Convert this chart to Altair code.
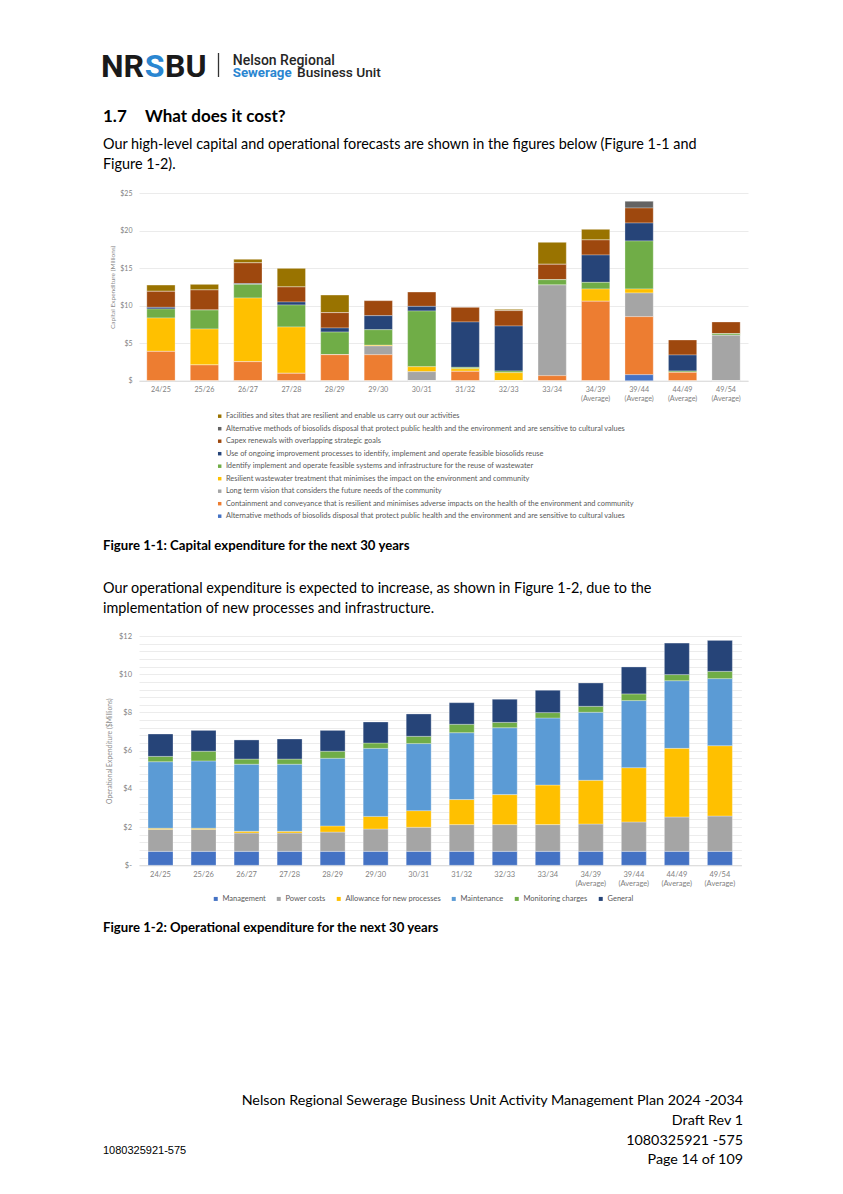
import altair as alt
import pandas as pd

# ---------------- data ----------------
categories = ["24/25", "25/26", "26/27", "27/28", "28/29", "29/30", "30/31", "31/32",
              "32/33", "33/34", "34/39 (Average)", "39/44 (Average)", "44/49 (Average)",
              "49/54 (Average)"]

# capital expenditure ($M)
cap_alt_blue = [0, 0, 0, 0, 0, 0, 0, 0, 0, 0, 0, 0.8, 0, 0]
cap_containment = [3.9, 2.09, 2.53, 0.98, 3.46, 3.46, 0, 1.24, 0, 0.67, 10.57, 7.73, 1.11, 0]
cap_long_term = [0, 0, 0, 0, 0, 1.16, 1.2, 0, 0, 12.07, 0, 3.15, 0, 6.04]
cap_resilient = [4.45, 4.79, 8.48, 6.17, 0, 0.1, 0.66, 0.36, 1.07, 0, 1.64, 0.53, 0, 0]
cap_identify = [1.2, 2.53, 1.82, 2.93, 3.02, 2.07, 7.42, 0.18, 0.22, 0.71, 0.89, 6.4, 0.18, 0.22]
cap_ongoing = [0.22, 0, 0.1, 0.4, 0.54, 1.87, 0.62, 6.04, 5.99, 0, 3.64, 2.39, 2.13, 0]
cap_renewals = [2.13, 2.67, 2.76, 2.0, 2.04, 2.0, 1.91, 1.95, 2.05, 2.05, 2.0, 2.0, 2.0, 1.56]
cap_alt_grey = [0, 0, 0, 0, 0, 0, 0, 0, 0, 0, 0, 0.89, 0, 0]
cap_facilities = [0.84, 0.75, 0.48, 2.48, 2.35, 0, 0, 0, 0.17, 2.93, 1.42, 0, 0, 0]

# legend order (top to bottom)
cap_names = [
    "Facilities and sites that are resilient and enable us carry out our activities",
    "Alternative methods of biosolids disposal that protect public health and the environment and are sensitive to cultural values",
    "Capex renewals with overlapping strategic goals",
    "Use of ongoing improvement processes to identify, implement and operate feasible biosolids reuse",
    "Identify implement and operate feasible systems and infrastructure for the reuse of wastewater",
    "Resilient wastewater treatment that minimises the impact on the environment and community",
    "Long term vision that considers the future needs of the community",
    "Containment and conveyance that is resilient and minimises adverse impacts on the health of the environment and community",
    "Alternative methods of biosolids disposal that protect public health and the environment and are sensitive to cultural values ",
]
cap_colors = ["#997300", "#636363", "#9E480E", "#264478", "#70AD47", "#FFC000",
              "#A5A5A5", "#ED7D31", "#4472C4"]
cap_series_values = [cap_facilities, cap_alt_grey, cap_renewals, cap_ongoing, cap_identify,
                     cap_resilient, cap_long_term, cap_containment, cap_alt_blue]

# operational expenditure ($M)
op_management = [0.73] * 14
op_power = [1.15, 1.15, 0.96, 0.96, 1.01, 1.17, 1.26, 1.4, 1.4, 1.4, 1.43, 1.54, 1.8, 1.85]
op_allowance = [0.06, 0.06, 0.09, 0.09, 0.32, 0.66, 0.87, 1.31, 1.57, 2.07, 2.29, 2.84, 3.59, 3.68]
op_maintenance = [3.48, 3.52, 3.51, 3.51, 3.54, 3.56, 3.51, 3.5, 3.5, 3.51, 3.56, 3.51, 3.54, 3.51]
op_monitoring = [0.28, 0.51, 0.27, 0.27, 0.37, 0.28, 0.38, 0.44, 0.28, 0.28, 0.31, 0.35, 0.32, 0.38]
op_general = [1.17, 1.09, 1.0, 1.05, 1.09, 1.1, 1.17, 1.13, 1.21, 1.17, 1.22, 1.41, 1.65, 1.62]

op_names = ["Management", "Power costs", "Allowance for new processes", "Maintenance",
            "Monitoring charges", "General"]
op_colors = ["#4472C4", "#A5A5A5", "#FFC000", "#5B9BD5", "#70AD47", "#264478"]
op_series_values = [op_management, op_power, op_allowance, op_maintenance, op_monitoring, op_general]

# ---------------- tables ----------------
rows = []
n = len(cap_names)
for i, (name, vals) in enumerate(zip(cap_names, cap_series_values)):
    for c, v in zip(categories, vals):
        rows.append({"cat": c, "capex": name, "val": v, "idx": n - i})
df_cap = pd.DataFrame(rows)

rows = []
for i, (name, vals) in enumerate(zip(op_names, op_series_values)):
    for c, v in zip(categories, vals):
        rows.append({"cat": c, "opex": name, "val": v, "idx": i})
df_op = pd.DataFrame(rows)

ONE = pd.DataFrame({"k": [0]})
FONT = "Lato"
BLUE = "#2a86d1"
X0 = 139  # page x of the column origin (plot left edge)


def T(s, x, y, size, oy, weight="normal", color="#000000", align="left", font=FONT,
      baseline="middle"):
    return alt.Chart(ONE).mark_text(
        text=s, fontSize=size, fontWeight=weight, color=color, align=align,
        baseline=baseline, font=font
    ).encode(x=alt.value(x - X0), y=alt.value(y - oy))


def spacer(w, h):
    return alt.Chart(ONE).mark_text(text=" ", fontSize=1).encode(
        x=alt.value(w / 2), y=alt.value(h / 2)).properties(width=w, height=h)


PANEL_W = 827 - (X0 - 8)

# ---------------- row A: header + intro ----------------
oy = 8
rowA = alt.layer(
    T("NR", 144, 76.5, 32, oy, weight="bold", color="#1a1a1a", align="right",
      font="Roboto", baseline="alphabetic"),
    T("S", 154.5, 76.5, 32, oy, weight="bold", color=BLUE, align="center",
      font="Roboto", baseline="alphabetic"),
    T("BU", 165, 76.5, 32, oy, weight="bold", color="#1a1a1a", align="left",
      font="Roboto", baseline="alphabetic"),
    alt.Chart(ONE).mark_rule(color="#333333", strokeWidth=1.3).encode(
        x=alt.value(218.5 - X0), y=alt.value(53 - oy), y2=alt.value(77 - oy)),
    T("Nelson Regional", 232.7, 64.5, 14, oy, weight=500, color="#262626",
      font="Roboto", baseline="alphabetic"),
    T("Sewerage", 232.7, 77.3, 13.3, oy, weight="bold", color=BLUE,
      font="Roboto", baseline="alphabetic"),
    T("Business Unit", 297, 77.3, 13.7, oy, weight=500, color="#262626",
      font="Roboto", baseline="alphabetic"),
    T("1.7", 103, 117, 17, oy, weight="bold"),
    T("What does it cost?", 145, 117, 17, oy, weight="bold"),
    T("Our high-level capital and operational forecasts are shown in the figures below (Figure 1-1 and",
      103, 145, 14.4, oy),
    T("Figure 1-2).", 103, 165, 14.4, oy),
).properties(width=PANEL_W, height=184.3)

# ---------------- capex chart ----------------
cap_chart = alt.Chart(df_cap).mark_bar(stroke="#ffffff", strokeWidth=0.3).encode(
    x=alt.X("cat:N", sort=categories,
            scale=alt.Scale(paddingInner=0.35, paddingOuter=0.18),
            axis=alt.Axis(title=None, labelAngle=0, labelExpr="split(datum.label, ' ')",
                          labelFontSize=7.2, labelColor="#7f7f7f", labelFont=FONT,
                          ticks=False, domainColor="#d9d9d9", labelPadding=5,
                          labelLineHeight=9)),
    y=alt.Y("val:Q", stack="zero", scale=alt.Scale(domain=[0, 25], nice=False),
            axis=alt.Axis(title="Capital Expenditure (Millions)", values=[0, 5, 10, 15, 20, 25],
                          labelExpr="datum.value == 0 ? '$' : '$' + datum.value",
                          domain=False, ticks=False, gridColor="#ebebeb", labelPadding=7,
                          labelFontSize=7, labelColor="#7f7f7f", labelFont=FONT,
                          titlePadding=4, titleFontSize=6.5, titleFontWeight="normal",
                          titleColor="#8c8c8c", titleFont=FONT)),
    color=alt.Color("capex:N", scale=alt.Scale(domain=cap_names, range=cap_colors),
                    legend=alt.Legend(orient="none", legendX=77, legendY=219.5, title=None,
                                      direction="vertical", symbolType="square",
                                      symbolSize=12, symbolStrokeWidth=0,
                                      labelFontSize=7.4, labelFont=FONT,
                                      labelColor="#595959", labelLimit=800,
                                      rowPadding=3.5, labelOffset=2.5, padding=0)),
    order=alt.Order("idx:Q", sort="ascending"),
).properties(width=609, height=187.7)

# ---------------- row C: caption + text ----------------
oy = 380
rowC = alt.layer(
    T("Figure 1-1: Capital expenditure for the next 30 years", 103, 545, 13.2, oy, weight="bold"),
    T("Our operational expenditure is expected to increase, as shown in Figure 1-2, due to the",
      103, 588, 14.4, oy),
    T("implementation of new processes and infrastructure.", 103, 608, 14.4, oy),
).properties(width=PANEL_W, height=254.7)

# ---------------- opex chart ----------------
grid_vals = [round(i * 0.4, 1) for i in range(31)]
op_chart = alt.Chart(df_op).mark_bar(stroke="#ffffff", strokeWidth=0.3).encode(
    x=alt.X("cat:N", sort=categories,
            scale=alt.Scale(paddingInner=0.42, paddingOuter=0.21),
            axis=alt.Axis(title=None, labelAngle=0, labelExpr="split(datum.label, ' ')",
                          labelFontSize=7.5, labelColor="#7f7f7f", labelFont=FONT,
                          ticks=False, domainColor="#d9d9d9", labelPadding=5,
                          labelLineHeight=9.5)),
    y=alt.Y("val:Q", stack="zero", scale=alt.Scale(domain=[0, 12], nice=False),
            axis=alt.Axis(title="Operational Expenditure ($Millions)", values=grid_vals,
                          labelExpr="datum.value % 2 == 0 ? (datum.value == 0 ? '$-' : '$' + datum.value) : ''",
                          domain=False, ticks=False, gridColor="#ececec", labelPadding=7.5,
                          labelFontSize=7.5, labelColor="#7f7f7f", labelFont=FONT,
                          titlePadding=6, titleFontSize=6.8, titleFontWeight="normal",
                          titleColor="#8c8c8c", titleFont=FONT)),
    color=alt.Color("opex:N", scale=alt.Scale(domain=op_names, range=op_colors),
                    legend=alt.Legend(orient="none", legendX=73, legendY=258.8, title=None,
                                      direction="horizontal", columns=6, symbolType="square",
                                      symbolSize=16, symbolStrokeWidth=0,
                                      labelFontSize=7.5, labelFont=FONT,
                                      labelColor="#595959", labelLimit=400,
                                      columnPadding=9, labelOffset=3, padding=0)),
    order=alt.Order("idx:Q", sort="ascending"),
).properties(width=602.4, height=229.3)

# ---------------- row E: caption + footer ----------------
oy = 864
rowE = alt.layer(
    T("Figure 1-2: Operational expenditure for the next 30 years", 103, 926, 13.2, oy, weight="bold"),
    T("Nelson Regional Sewerage Business Unit Activity Management Plan 2024 -2034",
      743, 1099, 14.3, oy, align="right"),
    T("Draft Rev 1", 743, 1119, 14.3, oy, align="right"),
    T("1080325921 -575", 743, 1139, 14.3, oy, align="right"),
    T("Page 14 of 109", 743, 1158, 14.3, oy, align="right"),
    T("1080325921-575", 103, 1149, 11, oy, font="Liberation Sans"),
).properties(width=PANEL_W, height=322)

column = alt.vconcat(rowA, cap_chart, rowC, op_chart, rowE, spacing=0,
                     bounds="flush").resolve_scale(color="independent", x="independent",
                                                   y="independent")

chart = alt.hconcat(spacer(X0 - 8, 1178), column, spacing=0, bounds="flush").resolve_scale(
    color="independent").properties(padding=0, background="white").configure_view(stroke=None)

chart.save("out.html", embed_options={"renderer": "svg", "actions": False})
